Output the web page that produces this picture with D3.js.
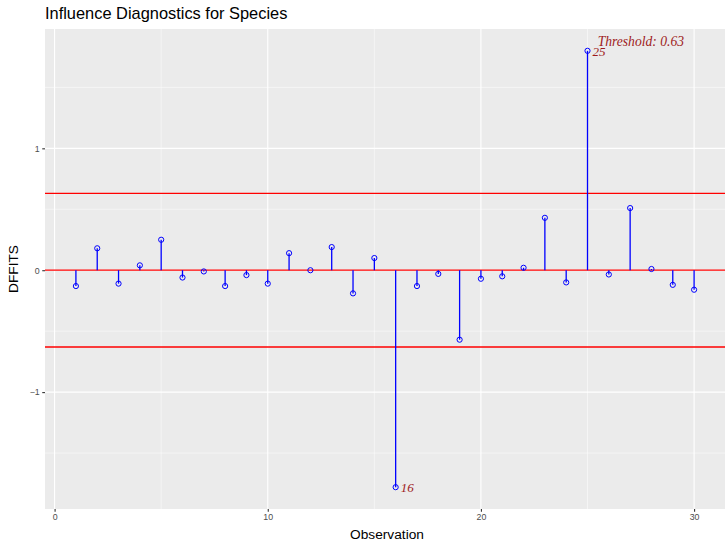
<!DOCTYPE html>
<html>
<head>
<meta charset="utf-8">
<script src="https://cdn.jsdelivr.net/npm/d3@7"></script>
<style>
  body { margin: 0; background: #fff; }
  svg text { font-family: "Liberation Sans", Arial, sans-serif; }
</style>
</head>
<body>
<div id="chart"></div>
<script>
const WIDTH = 726;
const HEIGHT = 542;
const MARGIN = { top: 29, right: 1, bottom: 33, left: 45 };

// DFFITS per observation
const observations = d3.range(1, 31);
const dffits = [
  -0.13, 0.18, -0.11, 0.04, 0.25, -0.06, -0.01, -0.13, -0.04, -0.11,
  0.14, 0.00, 0.19, -0.19, 0.10, -1.78, -0.13, -0.03, -0.57, -0.07,
  -0.05, 0.02, 0.43, -0.10, 1.80, -0.035, 0.51, 0.01, -0.12, -0.16
];
const threshold = 0.63;
const flagged = [16, 25];
const xTicks = [0, 10, 20, 30];
const xMinor = [5, 15, 25];
const yTicks = [-1, 0, 1];
const yMinor = [-1.5, -0.5, 0.5, 1.5];

const LABEL_COLOR = '#9e1b1b';
const STEM_COLOR = '#0000ff';
const REF_COLOR = '#ff0000';

const svg = d3.select('#chart').append('svg')
  .attr('width', WIDTH)
  .attr('height', HEIGHT);

const x0 = 1, x1 = 30;
const xPad = (x1 - x0) * 0.05;
const x = d3.scaleLinear()
  .domain([x0 - xPad, x1 + xPad])
  .range([MARGIN.left, WIDTH - MARGIN.right]);

const yMin = d3.min(dffits), yMax = d3.max(dffits);
const yPad = (yMax - yMin) * 0.05;
const y = d3.scaleLinear()
  .domain([yMin - yPad, yMax + yPad])
  .range([HEIGHT - MARGIN.bottom, MARGIN.top]);

// panel
svg.append('rect')
  .attr('x', MARGIN.left).attr('y', MARGIN.top)
  .attr('width', WIDTH - MARGIN.left - MARGIN.right)
  .attr('height', HEIGHT - MARGIN.top - MARGIN.bottom)
  .attr('fill', '#ebebeb');

const L = MARGIN.left, R = WIDTH - MARGIN.right;
const T = MARGIN.top, B = HEIGHT - MARGIN.bottom;
const vline = d => `M${x(d)},${T}V${B}`;
const hline = d => `M${L},${y(d)}H${R}`;

const grid = svg.append('g').attr('class', 'grid');
grid.append('path').attr('d', xMinor.map(vline).join('') + yMinor.map(hline).join(''))
  .attr('fill', 'none').attr('stroke', '#ffffff').attr('stroke-width', 0.5);
grid.append('path').attr('d', xTicks.map(vline).join('') + yTicks.map(hline).join(''))
  .attr('fill', 'none').attr('stroke', '#ffffff').attr('stroke-width', 1.1);

// reference lines at -threshold, 0, +threshold
svg.append('g').attr('class', 'refs')
  .selectAll('path.ref').data([-threshold, 0, threshold]).enter().append('path')
  .attr('class', 'ref')
  .attr('d', hline)
  .attr('fill', 'none')
  .attr('stroke', REF_COLOR).attr('stroke-width', 1.3);

// stems and points
const pts = observations.map((o, i) => ({ obs: o, v: dffits[i] }));
const marks = svg.append('g').attr('class', 'marks');
marks.selectAll('path.stem').data(pts).enter().append('path')
  .attr('class', 'stem')
  .attr('d', d => `M${x(d.obs)},${y(0)}V${y(d.v)}`)
  .attr('fill', 'none')
  .attr('stroke', STEM_COLOR).attr('stroke-width', 1.3);
marks.selectAll('circle.pt').data(pts).enter().append('circle')
  .attr('class', 'pt')
  .attr('cx', d => x(d.obs)).attr('cy', d => y(d.v))
  .attr('r', 2.6)
  .attr('fill', 'none').attr('stroke', STEM_COLOR).attr('stroke-width', 1);

// labels for influential points
svg.selectAll('text.lab').data(pts.filter(d => flagged.includes(d.obs))).enter().append('text')
  .attr('class', 'lab')
  .attr('x', d => x(d.obs) + 5).attr('y', d => y(d.v) + 5)
  .style('font-family', '"Liberation Serif", serif')
  .style('font-style', 'italic')
  .style('font-size', '13px')
  .style('fill', LABEL_COLOR)
  .text(d => d.obs);

svg.append('text')
  .attr('x', 684).attr('y', 46)
  .attr('text-anchor', 'end')
  .style('font-family', '"Liberation Serif", serif')
  .style('font-style', 'italic')
  .style('font-size', '13.6px')
  .style('fill', LABEL_COLOR)
  .text('Threshold: ' + threshold.toFixed(2));

// axes
const xAxis = svg.append('g')
  .attr('transform', `translate(0, ${B})`)
  .call(d3.axisBottom(x).tickValues(xTicks).tickSize(2.75).tickPadding(2.5).tickFormat(d3.format('d')));
const yAxis = svg.append('g')
  .attr('transform', `translate(${L}, 0)`)
  .call(d3.axisLeft(y).tickValues(yTicks).tickSize(2.75).tickPadding(2.5)
    .tickFormat(d => d < 0 ? '\u2212' + Math.abs(d) : d));
[xAxis, yAxis].forEach(a => {
  a.select('.domain').remove();
  a.selectAll('.tick line').style('stroke', '#333').style('stroke-width', 1.1);
  a.selectAll('.tick text').style('fill', '#4d4d4d')
    .style('font-size', '8.8px').style('font-family', '"Liberation Sans", Arial, sans-serif');
});

svg.append('text')
  .attr('x', (L + R) / 2 + 2).attr('y', 539)
  .attr('text-anchor', 'middle')
  .style('font-size', '13.7px')
  .text('Observation');

svg.append('text')
  .attr('transform', `translate(18, ${(T + B) / 2}) rotate(-90)`)
  .attr('text-anchor', 'middle')
  .style('font-size', '13.7px')
  .text('DFFITS');

svg.append('text')
  .attr('x', L).attr('y', 19)
  .style('font-size', '16.4px')
  .text('Influence Diagnostics for Species');
</script>
</body>
</html>
